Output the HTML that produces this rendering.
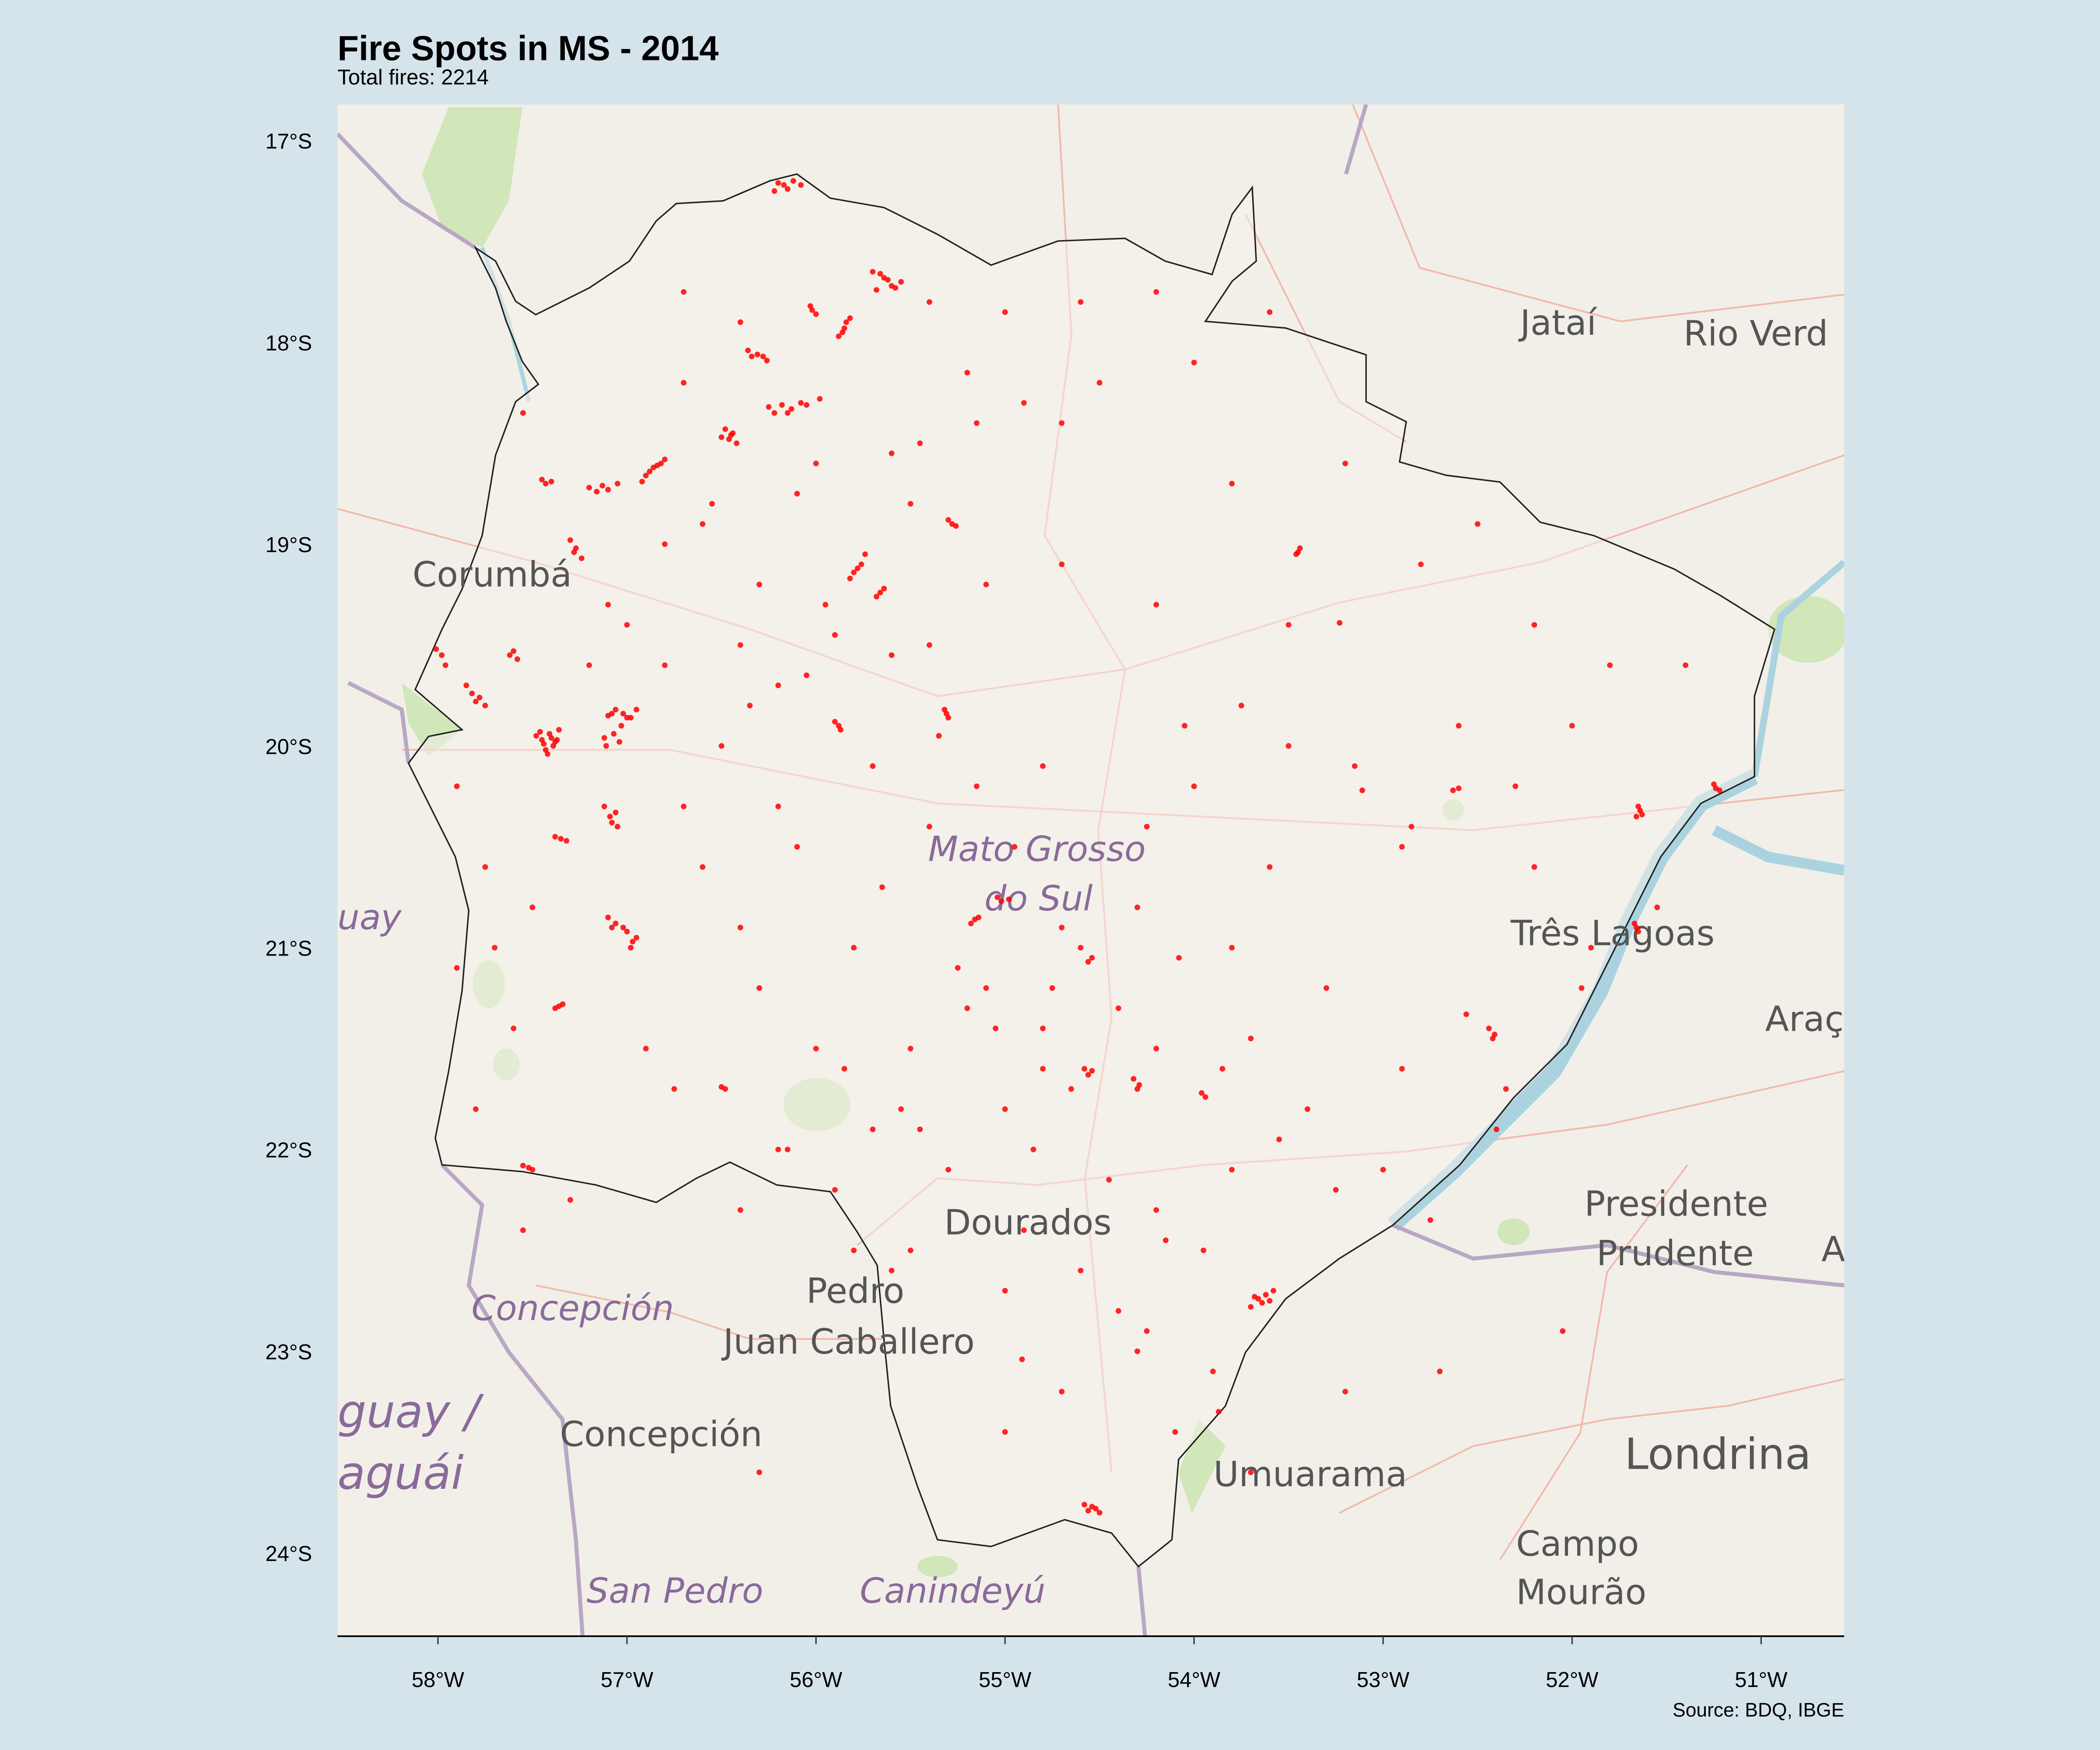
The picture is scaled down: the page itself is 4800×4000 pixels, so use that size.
<!DOCTYPE html>
<html><head><meta charset="utf-8"><style>
html,body{margin:0;padding:0;background:#d5e3ea;}
svg{display:block;font-family:"Liberation Sans",Arial,sans-serif;}
</style></head><body>
<svg id="chart" width="4800" height="4000" viewBox="0 0 1568 1307" preserveAspectRatio="none" xmlns="http://www.w3.org/2000/svg">
<rect x="0" y="0" width="1568" height="1307" fill="#d5e3ea"/>
<text x="252" y="45" font-size="26" font-weight="bold" fill="#000">Fire Spots in MS - 2014</text>
<text x="252" y="63" font-size="16" fill="#000">Total fires: 2214</text>
<defs><clipPath id="panelClip"><rect x="252" y="78" width="1125" height="1144"/></clipPath></defs>
<g clip-path="url(#panelClip)">
<rect x="252" y="78" width="1125" height="1144" fill="#f2efe9"/>
<g fill="#cde4b4" opacity="0.9">
<path d="M335,80 L390,80 L380,150 L360,185 L330,170 L315,130 Z"/>
<path d="M300,510 L345,545 L320,565 L305,540 Z"/>
<ellipse cx="365" cy="735" rx="12" ry="18"/>
<ellipse cx="378" cy="795" rx="10" ry="12"/>
<ellipse cx="610" cy="825" rx="25" ry="20"/>
<ellipse cx="1085" cy="605" rx="8" ry="8"/>
<ellipse cx="1130" cy="920" rx="12" ry="10"/>
<path d="M895,1060 L915,1080 L890,1130 L880,1100 Z"/>
<ellipse cx="1350" cy="470" rx="30" ry="25"/>
<ellipse cx="700" cy="1170" rx="15" ry="8"/>
</g>
<g fill="none" stroke="#f3b9a8" stroke-width="1.3">
<path d="M790,78 L800,250 L780,400 L840,500 L820,620 L830,760 L810,880 L830,1100"/>
<path d="M252,380 L400,420 L560,470 L700,520 L840,500 L1000,450 L1150,420 L1377,340"/>
<path d="M300,560 L500,560 L700,600 L900,610 L1100,620 L1377,590"/>
<path d="M640,930 L700,880 L775,885 L900,870 L1050,860 L1200,840 L1377,800"/>
<path d="M1010,78 L1060,200 L1210,240 L1377,220"/>
<path d="M400,960 L500,980 L560,1000 L660,1000"/>
<path d="M1000,1130 L1100,1080 L1200,1060 L1290,1050 L1377,1030"/>
<path d="M1260,870 L1200,950 L1180,1070 L1120,1165"/>
<path d="M930,160 L1000,300 L1050,330"/>
</g>
<g fill="none" stroke="#aad3df">
<path d="M1310,580 L1270,600 L1240,640 L1215,690 L1195,740 L1160,800 L1120,840 L1085,875 L1040,915" stroke-width="12"/>
<path d="M1377,420 L1330,460 L1320,520 L1310,580" stroke-width="5"/>
<path d="M1377,650 L1320,640 L1280,620" stroke-width="8"/>
<path d="M360,185 L380,240 L395,300" stroke-width="3"/>
</g>
<g fill="none" stroke="#b9a7c4" stroke-width="3">
<path d="M252,100 L300,150 L355,185"/>
<path d="M305,570 L300,530 L260,510"/>
<path d="M330,870 L360,900 L350,960 L380,1010 L420,1060 L430,1150 L435,1222"/>
<path d="M1040,915 L1100,940 L1200,930 L1280,950 L1377,960"/>
<path d="M1020,78 L1005,130"/>
<path d="M850,1170 L855,1222"/>
</g>
<polygon fill="#f5f1ec" fill-opacity="0.5" stroke="#222" stroke-width="1.1" points="505,152 540,150 575,135 595,130 620,148 660,155 700,175 740,198 790,180 840,178 870,195 905,205 920,160 935,140 938,195 920,210 900,240 960,245 1020,265 1020,300 1050,315 1045,345 1080,355 1120,360 1150,390 1190,400 1250,425 1285,445 1325,470 1310,520 1310,580 1270,600 1240,640 1220,680 1200,720 1170,780 1130,820 1090,870 1040,915 1000,940 960,970 930,1010 915,1050 880,1090 875,1150 850,1170 830,1145 795,1135 740,1155 700,1150 685,1110 665,1050 660,1000 655,945 640,920 620,890 580,885 545,868 520,880 490,898 445,885 390,875 330,870 325,850 335,800 345,740 350,680 340,640 320,600 305,570 320,550 345,545 310,515 330,470 345,440 360,400 370,340 385,300 402,287 390,270 378,240 370,215 355,185 370,195 385,225 400,235 440,215 470,195 490,165"/>
<g font-family="'DejaVu Sans',sans-serif" fill="#555" font-size="26">
<text x="308" y="438">Corumbá</text>
<text x="1135" y="250">Jataí</text>
<text x="1257" y="258">Rio Verd</text>
<text x="1128" y="706">Três Lagoas</text>
<text x="1318" y="770">Araç</text>
<text x="705" y="922">Dourados</text>
<text x="602" y="973">Pedro</text>
<text x="540" y="1011">Juan Caballero</text>
<text x="418" y="1080">Concepción</text>
<text x="906" y="1110">Umuarama</text>
<text x="1183" y="908">Presidente</text>
<text x="1192" y="945">Prudente</text>
<text x="1213" y="1097" font-size="32">Londrina</text>
<text x="1132" y="1162">Campo</text>
<text x="1132" y="1198">Mourão</text>
<text x="1360" y="942">A</text>
<g fill="#8a6a9a" font-style="italic">
<text x="693" y="643">Mato Grosso</text>
<text x="735" y="680">do Sul</text>
<text x="352" y="986">Concepción</text>
<text x="252" y="694">uay</text>
<text x="252" y="1066" font-size="34">guay /</text>
<text x="252" y="1112" font-size="34">aguái</text>
<text x="438" y="1197">San Pedro</text>
<text x="642" y="1197">Canindeyú</text>
</g>
</g>
<g id="fires"></g>
</g>
<line x1="252" y1="1222" x2="1377" y2="1222" stroke="#000" stroke-width="1.2"/>
<g id="xaxis" font-size="16" text-anchor="middle"></g>
<g id="yaxis" font-size="16" text-anchor="end"></g>
<text x="1377" y="1282" font-size="14.5" text-anchor="end">Source: BDQ, IBGE</text>
</svg>
<script>
const lonTicks = [-58,-57,-56,-55,-54,-53,-52,-51];
const lonLabels = ["58°W","57°W","56°W","55°W","54°W","53°W","52°W","51°W"];
const latTicks = [-17,-18,-19,-20,-21,-22,-23,-24];
const latLabels = ["17°S","18°S","19°S","20°S","21°S","22°S","23°S","24°S"];
const fireLon = [-56.17,-56.12,-56.22,-56.08,-55.64,-55.60,-55.70,-55.55,-55.68,-56.03,-56.00,-55.85,-55.82,-55.88,-56.31,-56.26,-56.36,-56.13,-56.18,-56.08,-56.25,-55.98,-56.45,-56.48,-56.42,-56.50,-57.13,-57.20,-57.05,-56.84,-56.88,-56.92,-56.80,-57.45,-57.40,-57.55,-57.27,-57.30,-57.24,-55.78,-55.82,-55.74,-55.64,-55.68,-55.26,-55.30,-55.50,-57.62,-57.58,-58.01,-57.96,-57.85,-57.80,-57.75,-57.41,-57.45,-57.38,-57.43,-57.36,-57.48,-57.06,-57.10,-57.00,-57.12,-57.04,-56.95,-57.09,-57.05,-57.12,-57.38,-57.32,-57.06,-57.10,-56.95,-56.98,-57.00,-57.34,-57.38,-55.87,-55.90,-55.32,-55.30,-55.04,-54.98,-55.18,-55.14,-54.54,-54.08,-54.54,-54.58,-54.29,-54.32,-53.94,-54.20,-53.66,-53.62,-53.70,-53.58,-53.87,-51.64,-51.66,-51.25,-51.22,-52.41,-52.44,-51.67,-51.65,-53.44,-53.46,-53.23,-53.50,-54.54,-54.50,-54.58,-54.91,-57.55,-57.50,-56.50,-53.11,-52.63,-52.56,
-56.70,-56.40,-55.40,-55.00,-54.60,-54.20,-53.60,-54.00,-54.50,-55.15,-55.60,-56.10,-56.60,-57.10,-56.30,-55.90,-56.20,-56.80,-55.40,-55.10,-54.70,-54.20,-53.80,-53.20,-52.80,-52.50,-52.20,-51.80,-51.40,-52.00,-52.60,-53.50,-54.00,-54.80,-55.40,-56.20,-56.60,-57.50,-57.70,-57.60,-57.80,-56.90,-56.30,-55.80,-55.50,-55.20,-55.70,-56.20,-55.90,-55.30,-54.90,-54.60,-54.20,-53.80,-53.40,-52.90,-52.40,-53.00,-53.30,-53.80,-54.30,-53.60,-52.90,-52.20,-51.90,-52.30,-55.00,-54.70,-54.30,-54.10,-55.00,-54.40,-55.60,-56.00,-55.00,-54.80,-54.40,-53.70,-56.50,-56.40,-55.70,-57.90,-57.75,-57.20,
-56.15,-56.20,-55.62,-55.66,-55.58,-56.02,-55.84,-55.86,-56.28,-56.34,-56.15,-56.22,-56.05,-56.46,-56.44,-57.16,-57.10,-56.86,-56.90,-56.82,-57.43,-57.28,-55.80,-55.76,-55.66,-55.28,-57.60,-57.98,-57.82,-57.78,-57.40,-57.44,-57.39,-57.46,-57.37,-57.42,-57.08,-57.02,-57.07,-57.11,-57.03,-56.98,-57.08,-57.06,-57.35,-57.08,-56.97,-57.02,-57.36,-55.88,-55.31,-55.02,-55.16,-54.56,-54.56,-54.30,-53.96,-53.64,-53.68,-53.60,-51.63,-51.65,-51.24,-52.42,-51.66,-53.45,-54.52,-54.56,-57.52,-56.48,-52.60,-56.70,-56.55,-56.00,-55.45,-55.20,-54.90,-54.70,-56.80,-57.00,-56.35,-56.05,-55.95,-55.60,-55.35,-55.15,-54.95,-56.70,-56.40,-55.65,-55.25,-54.75,-55.85,-55.55,-56.15,-56.40,-57.30,-57.55,-57.90,-56.75,-56.10,-55.45,-55.05,-54.65,-54.85,-54.45,-54.15,-53.95,-53.55,-53.25,-52.75,-52.35,-51.95,-51.55,-52.85,-53.15,-53.75,-54.05,-54.25,-54.70,-55.10,-54.80,-54.25,-53.90,-53.70,-53.20,-52.05,-52.70,-53.85,-54.60,-55.50,-55.80,-56.30];
const fireLat = [-17.22,-17.20,-17.25,-17.22,-17.68,-17.72,-17.65,-17.70,-17.74,-17.82,-17.86,-17.93,-17.88,-17.97,-18.06,-18.09,-18.04,-18.33,-18.31,-18.30,-18.32,-18.28,-18.46,-18.43,-18.50,-18.47,-18.71,-18.72,-18.70,-18.61,-18.64,-18.69,-18.58,-18.68,-18.69,-18.35,-19.02,-18.98,-19.07,-19.12,-19.17,-19.05,-19.22,-19.26,-18.91,-18.88,-18.80,-19.55,-19.57,-19.52,-19.60,-19.70,-19.78,-19.80,-19.94,-19.97,-19.98,-20.02,-19.92,-19.95,-19.82,-19.85,-19.86,-19.96,-19.98,-19.82,-20.35,-20.40,-20.30,-20.45,-20.47,-20.88,-20.85,-20.95,-21.00,-20.92,-21.28,-21.30,-19.92,-19.88,-19.82,-19.86,-20.75,-20.76,-20.88,-20.85,-21.05,-21.05,-21.61,-21.60,-21.68,-21.65,-21.74,-21.50,-22.74,-22.72,-22.78,-22.70,-23.30,-20.32,-20.35,-20.19,-20.22,-21.43,-21.40,-20.88,-20.92,-19.02,-19.05,-19.39,-19.40,-23.77,-23.80,-23.76,-23.04,-22.08,-22.10,-21.69,-20.22,-20.22,-21.33,
-17.75,-17.90,-17.80,-17.85,-17.80,-17.75,-17.85,-18.10,-18.20,-18.40,-18.55,-18.75,-18.90,-19.30,-19.20,-19.45,-19.70,-19.60,-19.50,-19.20,-19.10,-19.30,-18.70,-18.60,-19.10,-18.90,-19.40,-19.60,-19.60,-19.90,-19.90,-20.00,-20.20,-20.10,-20.40,-20.30,-20.60,-20.80,-21.00,-21.40,-21.80,-21.50,-21.20,-21.00,-21.50,-21.30,-21.90,-22.00,-22.20,-22.10,-22.40,-22.60,-22.30,-22.10,-21.80,-21.60,-21.90,-22.10,-21.20,-21.00,-20.80,-20.60,-20.50,-20.60,-21.00,-20.20,-23.40,-23.20,-23.00,-23.40,-22.70,-22.80,-22.60,-21.50,-21.80,-21.40,-21.30,-21.45,-20.00,-19.50,-20.10,-20.20,-20.60,-19.60,
-17.24,-17.21,-17.69,-17.66,-17.73,-17.84,-17.90,-17.95,-18.07,-18.07,-18.35,-18.35,-18.31,-18.48,-18.45,-18.74,-18.73,-18.62,-18.66,-18.60,-18.70,-19.04,-19.14,-19.10,-19.24,-18.90,-19.53,-19.55,-19.74,-19.76,-19.96,-19.99,-20.00,-19.93,-19.97,-20.04,-19.84,-19.84,-19.94,-20.00,-19.90,-19.86,-20.38,-20.33,-20.46,-20.90,-20.97,-20.90,-21.29,-19.90,-19.84,-20.77,-20.86,-21.07,-21.63,-21.70,-21.72,-22.76,-22.73,-22.75,-20.34,-20.30,-20.21,-21.45,-20.90,-19.04,-23.78,-23.79,-22.09,-21.70,-20.21,-18.20,-18.80,-18.60,-18.50,-18.15,-18.30,-18.40,-19.00,-19.40,-19.80,-19.65,-19.30,-19.55,-19.95,-20.20,-20.50,-20.30,-20.90,-20.70,-21.10,-21.20,-21.60,-21.80,-22.00,-22.30,-22.25,-22.40,-21.10,-21.70,-20.50,-21.90,-21.40,-21.70,-22.00,-22.15,-22.45,-22.50,-21.95,-22.20,-22.35,-21.70,-21.20,-20.80,-20.40,-20.10,-19.80,-19.90,-20.40,-20.90,-21.20,-21.60,-22.90,-23.10,-23.60,-23.20,-22.90,-23.10,-21.60,-21.00,-22.50,-22.50,-23.60,-22.90,-22.20];

const NS = "http://www.w3.org/2000/svg";
function xScale(lon){ return 327 + (lon + 58) * 141.14; }
function yScale(lat){ return 105 + (-17 - lat) * 150.7; }

const fg = document.getElementById('fires');
for (let i = 0; i < fireLon.length; i++) {
  const c = document.createElementNS(NS, 'circle');
  c.setAttribute('cx', xScale(fireLon[i]));
  c.setAttribute('cy', yScale(fireLat[i]));
  c.setAttribute('r', 2.1);
  c.setAttribute('fill', '#ff0000');
  c.setAttribute('fill-opacity', '0.85');
  
  
  fg.appendChild(c);
}
const xg = document.getElementById('xaxis');
lonTicks.forEach((v, i) => {
  const x = xScale(v);
  const l = document.createElementNS(NS, 'line');
  l.setAttribute('x1', x); l.setAttribute('x2', x);
  l.setAttribute('y1', 1222); l.setAttribute('y2', 1228);
  l.setAttribute('stroke', '#333');
  
  
  xg.appendChild(l);
  const t = document.createElementNS(NS, 'text');
  t.setAttribute('x', x); t.setAttribute('y', 1260);
  t.textContent = lonLabels[i];
  
  
  xg.appendChild(t);
});
const yg = document.getElementById('yaxis');
latTicks.forEach((v, i) => {
  const t = document.createElementNS(NS, 'text');
  t.setAttribute('x', 233); t.setAttribute('y', yScale(v) + 6);
  t.textContent = latLabels[i];
  
  
  yg.appendChild(t);
});
</script>
</body></html>
